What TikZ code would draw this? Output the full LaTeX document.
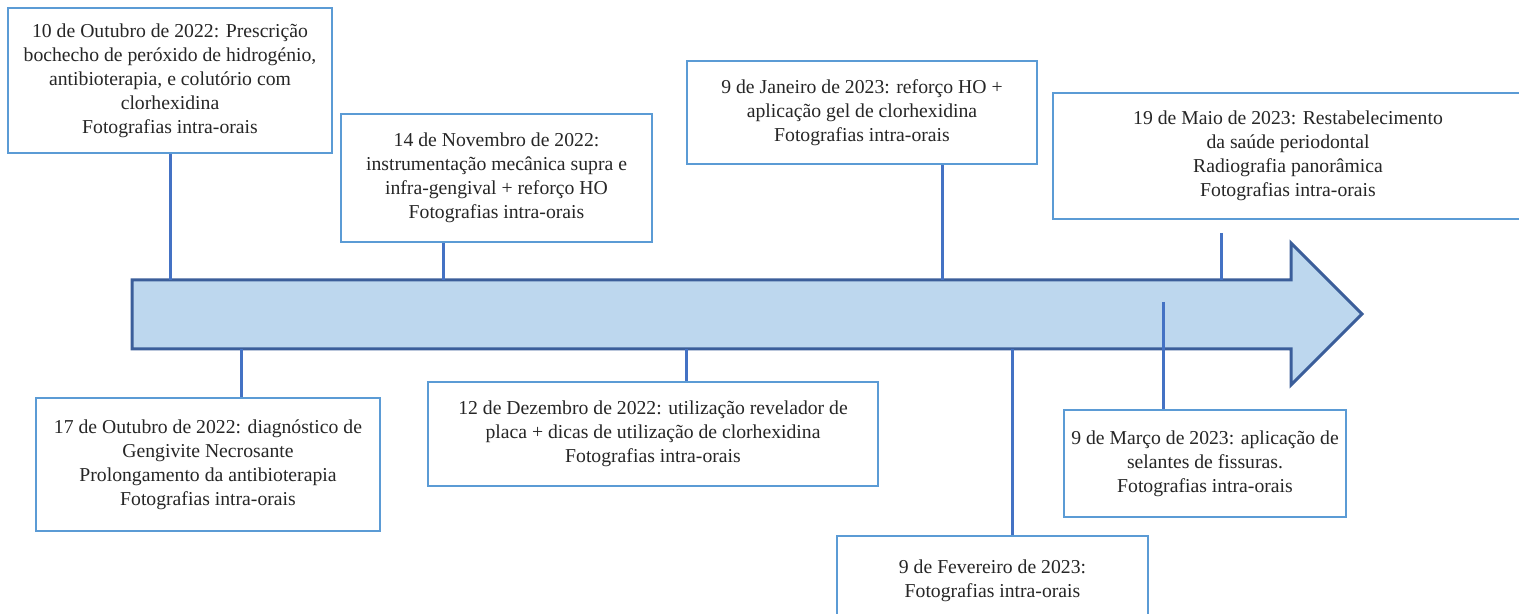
\documentclass[tikz,border=0pt]{standalone}
\usepackage{fontspec}
\setmainfont{Liberation Serif}
\usepackage{tikz}
\definecolor{caixa}{HTML}{5B9BD5}
\definecolor{linha}{HTML}{4472C4}
\definecolor{seta}{HTML}{BDD7EE}
\definecolor{setaborda}{HTML}{3B5E9A}

\begin{document}
\begin{tikzpicture}[x=0.5pt, y=-0.5pt,
    evento/.style={draw=caixa, line width=1.2pt, fill=white, align=center,
      inner sep=0pt, text=black!85, font=\fontsize{9.85}{12}\selectfont},
    ligacao/.style={draw=linha, line width=1.5pt}]
        \useasboundingbox (0, 0) rectangle (1519, 614);
        % seta do tempo
        \draw[fill=seta, draw=setaborda, line width=1.5pt]
          (132, 280) -- (1291, 280) -- (1291, 243) -- (1362, 314)
          -- (1291, 385) -- (1291, 349) -- (132, 349) -- cycle;
        \coordinate (t1) at (170, 280);
        \coordinate (t2) at (443, 280);
        \coordinate (t3) at (942, 280);
        \coordinate (t4) at (1221, 280);
        \coordinate (t5) at (241, 349);
        \coordinate (t6) at (686, 349);
        \coordinate (t7) at (1012, 349);
        \coordinate (t8) at (1163, 302);
        \coordinate (t4b) at (1221, 233);

        % acima da seta
        \node[evento, minimum width=162pt, minimum height=72.5pt] (out10) at (170, 80.5)
          {10 de Outubro de 2022: Prescrição\\ bochecho de peróxido de hidrogénio,\\
           antibioterapia, e colutório com\\ clorhexidina\\ Fotografias intra-orais};
        \node[evento, minimum width=155.5pt, minimum height=64pt] (nov14) at (496.5, 178)
          {14 de Novembro de 2022:\\ instrumentação mecânica supra e\\
           infra-gengival + reforço HO\\ Fotografias intra-orais};
        \node[evento, minimum width=175pt, minimum height=51.5pt] (jan9) at (862, 112.5)
          {9 de Janeiro de 2023: reforço HO +\\ aplicação gel de clorhexidina\\
           Fotografias intra-orais};
        \node[evento, minimum width=235pt, minimum height=63pt] (mai19) at (1288, 156)
          {19 de Maio de 2023: Restabelecimento\\ da saúde periodontal\\
           Radiografia panorâmica\\ Fotografias intra-orais};

        % abaixo da seta
        \node[evento, minimum width=172pt, minimum height=66.5pt] (out17) at (208, 464.5)
          {17 de Outubro de 2022: diagnóstico de\\ Gengivite Necrosante\\
           Prolongamento da antibioterapia\\ Fotografias intra-orais};
        \node[evento, minimum width=225pt, minimum height=52pt] (dez12) at (653, 434)
          {12 de Dezembro de 2022: utilização revelador de\\
           placa + dicas de utilização de clorhexidina\\ Fotografias intra-orais};
        \node[evento, minimum width=155.5pt, minimum height=45pt] (fev9) at (992.5, 581)
          {9 de Fevereiro de 2023:\\ Fotografias intra-orais};
        \node[evento, minimum width=141pt, minimum height=53.5pt] (mar9) at (1205, 463.5)
          {9 de Março de 2023: aplicação de\\ selantes de fissuras.\\
           Fotografias intra-orais};

        % ligacoes
        \draw[ligacao] (out10.south -| t1) -- (t1);
        \draw[ligacao] (nov14.south -| t2) -- (t2);
        \draw[ligacao] (jan9.south -| t3) -- (t3);
        \draw[ligacao] (t4b) -- (t4);
        \draw[ligacao] (t5) -- (out17.north -| t5);
        \draw[ligacao] (t6) -- (dez12.north -| t6);
        \draw[ligacao] (t7) -- (fev9.north -| t7);
        \draw[ligacao] (t8) -- (mar9.north -| t8);
      \end{tikzpicture}
\end{document}
